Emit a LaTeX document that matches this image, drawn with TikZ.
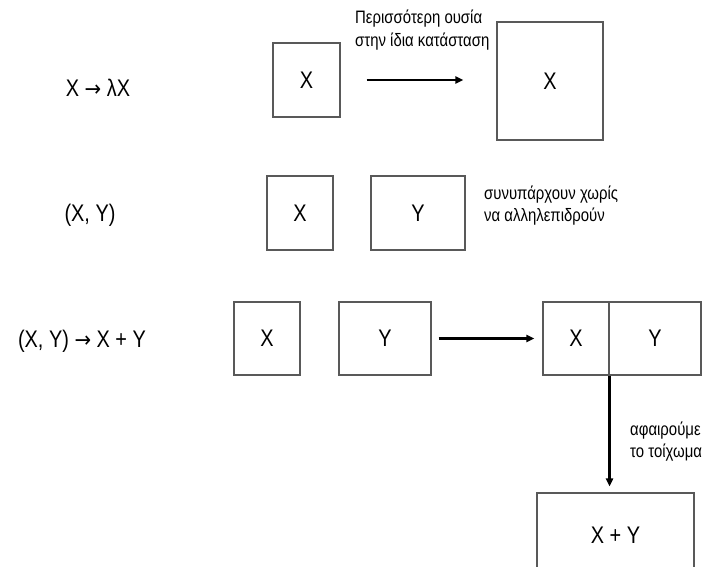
\documentclass[tikz,border=0pt]{standalone}
\usepackage{fontspec}
\setmainfont{Liberation Sans}[FakeStretch=0.83]
\newfontfamily\arrowfont{DejaVu Sans}[FakeStretch=0.9]
\newcommand{\rarr}{{\arrowfont\fontsize{22}{26}\selectfont →}}
\usetikzlibrary{arrows.meta}
\tikzset{
  box/.style={draw=black!65, line width=1.1pt, fill=none, inner sep=0pt, font=\fontsize{24}{28}\selectfont},
  big/.style={inner sep=0pt, font=\fontsize{24}{28}\selectfont},
  note/.style={inner sep=0pt, anchor=west, align=left, font=\fontsize{18}{22}\selectfont},
  conn/.style={line width=2.4pt, -{Triangle[length=8pt,width=7pt]}},
}
\begin{document}
\begin{tikzpicture}[x=1pt,y=-1pt]
\useasboundingbox (0,0) rectangle (712,566);
\clip (0,0) rectangle (712,566);
% row 1
\node[big] (l1) at (98,88) {X \rarr{} λX};
\node[box, minimum width=67pt, minimum height=74pt] (sx) at (306.5,80) {X};
\node[box, minimum width=106pt, minimum height=118pt] (bx) at (550,81) {X};
\draw[conn, shorten <=26pt, shorten >=33pt] (sx.east) -- (sx.east -| bx.west);
\node[note, font=\fontsize{18}{23.5}\selectfont] (n1) at (355,30) {Περισσότερη ουσία\\στην ίδια κατάσταση};
% row 2
\node[big] (l2) at (90,215) {(X, Y)};
\node[box, minimum width=66pt, minimum height=74pt] (x2) at (300,213) {X};
\node[box, minimum width=94pt, minimum height=74pt] (y2) at (418,213) {Y};
\node[note] (n2) at (484,205.5) {συνυπάρχουν χωρίς\\να αλληλεπιδρούν};
% row 3
\node[big] (l3) at (82,341) {(X, Y) \rarr{} X + Y};
\node[box, minimum width=66pt, minimum height=73pt] (x3) at (267,338.5) {X};
\node[box, minimum width=92pt, minimum height=73pt] (y3) at (385,338.5) {Y};
\node[box, minimum width=66pt, minimum height=73pt] (cx) at (576,338.5) {X};
\node[box, minimum width=92pt, minimum height=73pt] (cy) at (655,338.5) {Y};
\draw[conn, shorten <=7pt, shorten >=8pt] (y3.east) -- (cx.west);
% bottom
\node[box, minimum width=157pt, minimum height=84pt] (xy) at (615.5,535) {X + Y};
\draw[conn, shorten >=6pt] (cx.south east) -- (cx.south east |- xy.north);
\node[note] (n3) at (630,442) {αφαιρούμε\\το τοίχωμα};
\end{tikzpicture}
\end{document}
